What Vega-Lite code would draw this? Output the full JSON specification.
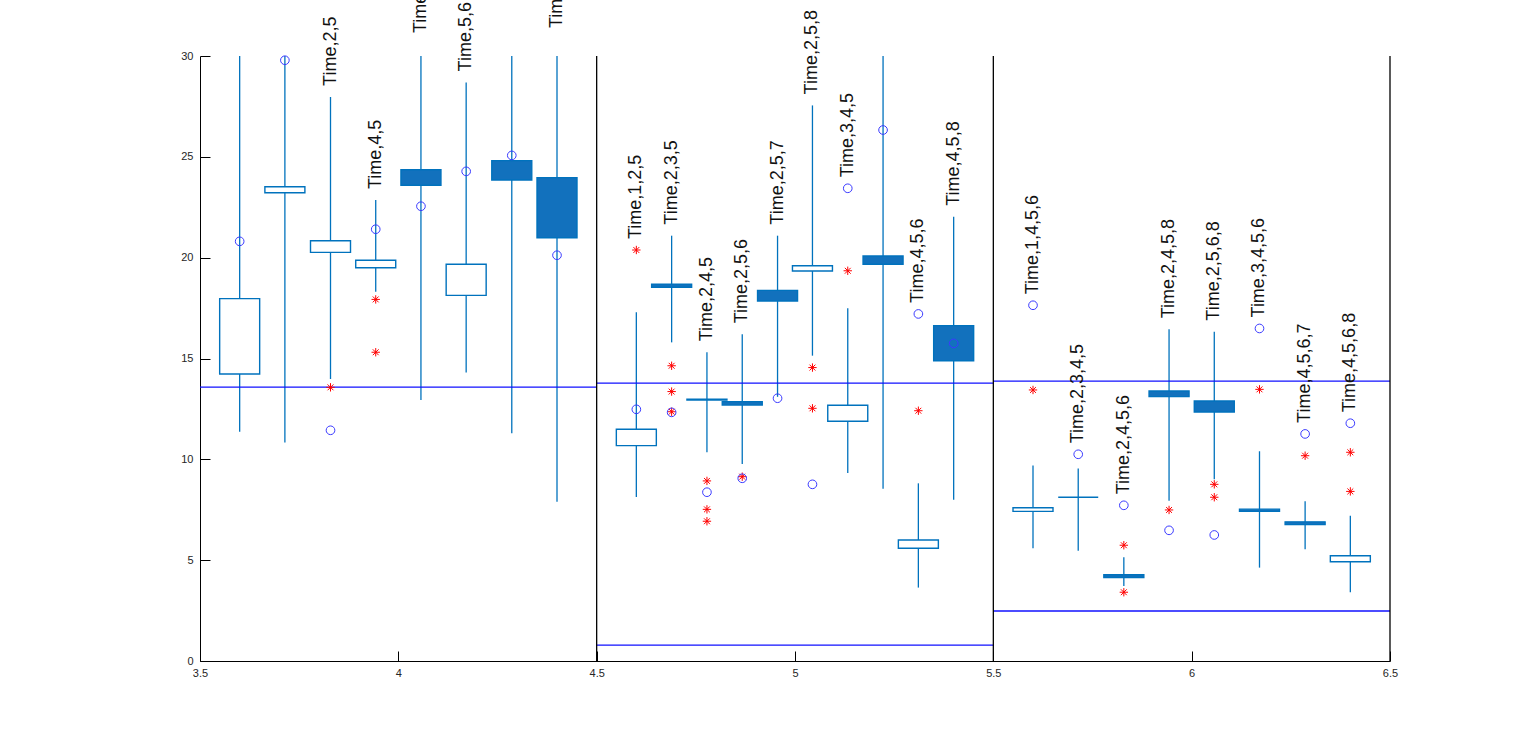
{
  "$schema": "https://vega.github.io/schema/vega-lite/v6.json",
  "width": 1190,
  "height": 605,
  "autosize": "none",
  "padding": {"left": 200, "top": 56, "right": 146, "bottom": 83},
  "background": "white",
  "config": {
    "view": {"stroke": null},
    "axis": {"labelFont": "Liberation Sans", "labelFontSize": 11, "labelColor": "#262626", "domainColor": "#000000", "tickColor": "#000000", "grid": false, "title": null, "tickSize": -10, "domainWidth": 1, "tickWidth": 1, "labelFlush": false}
  },
  "datasets": {
    "boxes": [
      {"x": 3.6, "q1": 14.23, "q3": 17.97, "lo": 11.37, "hi": 32, "kind": "outline"},
      {"x": 3.714, "q1": 23.22, "q3": 23.52, "lo": 10.84, "hi": 32, "kind": "outline"},
      {"x": 3.829, "q1": 20.26, "q3": 20.84, "lo": 13.98, "hi": 27.97, "kind": "outline"},
      {"x": 3.943, "q1": 19.5, "q3": 19.87, "lo": 18.31, "hi": 22.86, "kind": "outline"},
      {"x": 4.057, "q1": 23.59, "q3": 24.36, "lo": 12.94, "hi": 30.59, "kind": "compact"},
      {"x": 4.171, "q1": 18.13, "q3": 19.67, "lo": 14.31, "hi": 28.69, "kind": "outline"},
      {"x": 4.286, "q1": 23.85, "q3": 24.81, "lo": 11.29, "hi": 32, "kind": "compact"},
      {"x": 4.4, "q1": 20.99, "q3": 23.97, "lo": 7.9, "hi": 30.84, "kind": "compact"},
      {"x": 4.6, "q1": 10.68, "q3": 11.49, "lo": 8.13, "hi": 17.29, "kind": "outline"},
      {"x": 4.689, "q1": 18.53, "q3": 18.69, "lo": 15.8, "hi": 21.09, "kind": "compact"},
      {"x": 4.778, "q1": 12.94, "q3": 12.98, "lo": 10.35, "hi": 15.31, "kind": "outline"},
      {"x": 4.867, "q1": 12.69, "q3": 12.86, "lo": 9.77, "hi": 16.2, "kind": "compact"},
      {"x": 4.956, "q1": 17.85, "q3": 18.38, "lo": 13.1, "hi": 21.09, "kind": "compact"},
      {"x": 5.044, "q1": 19.34, "q3": 19.6, "lo": 15.14, "hi": 27.55, "kind": "outline"},
      {"x": 5.133, "q1": 11.89, "q3": 12.68, "lo": 9.32, "hi": 17.49, "kind": "outline"},
      {"x": 5.222, "q1": 19.67, "q3": 20.08, "lo": 8.54, "hi": 32, "kind": "compact"},
      {"x": 5.311, "q1": 5.59, "q3": 6.0, "lo": 3.64, "hi": 8.81, "kind": "outline"},
      {"x": 5.4, "q1": 14.89, "q3": 16.63, "lo": 8.0, "hi": 22.03, "kind": "compact"},
      {"x": 5.6, "q1": 7.42, "q3": 7.6, "lo": 5.59, "hi": 9.69, "kind": "outline"},
      {"x": 5.714, "q1": 8.12, "q3": 8.12, "lo": 5.47, "hi": 9.54, "kind": "outline"},
      {"x": 5.829, "q1": 4.14, "q3": 4.28, "lo": 3.72, "hi": 5.14, "kind": "compact"},
      {"x": 5.943, "q1": 13.11, "q3": 13.39, "lo": 7.95, "hi": 16.45, "kind": "compact"},
      {"x": 6.057, "q1": 12.35, "q3": 12.89, "lo": 9.01, "hi": 16.33, "kind": "compact"},
      {"x": 6.171, "q1": 7.42, "q3": 7.53, "lo": 4.63, "hi": 10.4, "kind": "compact"},
      {"x": 6.286, "q1": 6.76, "q3": 6.9, "lo": 5.54, "hi": 7.92, "kind": "compact"},
      {"x": 6.4, "q1": 4.92, "q3": 5.22, "lo": 3.41, "hi": 7.2, "kind": "outline"}
    ],
    "stars": [
      {"x": 3.829, "v": 13.57},
      {"x": 3.943, "v": 17.93}, {"x": 3.943, "v": 15.31},
      {"x": 4.6, "v": 20.38},
      {"x": 4.689, "v": 14.64}, {"x": 4.689, "v": 13.36}, {"x": 4.689, "v": 12.36},
      {"x": 4.778, "v": 8.93}, {"x": 4.778, "v": 7.52}, {"x": 4.778, "v": 6.93},
      {"x": 4.867, "v": 9.14},
      {"x": 5.044, "v": 14.55}, {"x": 5.044, "v": 12.53},
      {"x": 5.133, "v": 19.35},
      {"x": 5.311, "v": 12.41},
      {"x": 5.6, "v": 13.44},
      {"x": 5.829, "v": 5.74}, {"x": 5.829, "v": 3.41},
      {"x": 5.943, "v": 7.49},
      {"x": 6.057, "v": 8.76}, {"x": 6.057, "v": 8.12},
      {"x": 6.171, "v": 13.47},
      {"x": 6.286, "v": 10.18},
      {"x": 6.4, "v": 10.35}, {"x": 6.4, "v": 8.41}
    ],
    "circles": [
      {"x": 3.6, "v": 20.81}, {"x": 3.714, "v": 29.79}, {"x": 3.829, "v": 11.44}, {"x": 3.943, "v": 21.41},
      {"x": 4.057, "v": 22.55}, {"x": 4.171, "v": 24.28}, {"x": 4.286, "v": 25.07}, {"x": 4.4, "v": 20.12},
      {"x": 4.6, "v": 12.48}, {"x": 4.689, "v": 12.33}, {"x": 4.778, "v": 8.37}, {"x": 4.867, "v": 9.06},
      {"x": 4.956, "v": 13.03}, {"x": 5.044, "v": 8.76}, {"x": 5.133, "v": 23.44}, {"x": 5.222, "v": 26.33},
      {"x": 5.311, "v": 17.21}, {"x": 5.4, "v": 15.75},
      {"x": 5.6, "v": 17.64}, {"x": 5.714, "v": 10.25}, {"x": 5.829, "v": 7.72}, {"x": 5.943, "v": 6.48},
      {"x": 6.057, "v": 6.25}, {"x": 6.171, "v": 16.49}, {"x": 6.286, "v": 11.26}, {"x": 6.4, "v": 11.79}
    ],
    "labels": [
      {"x": 3.829, "top": 27.97, "text": "Time,2,5"},
      {"x": 3.943, "top": 22.86, "text": "Time,4,5"},
      {"x": 4.057, "top": 30.59, "text": "Time,3,5"},
      {"x": 4.171, "top": 28.69, "text": "Time,5,6"},
      {"x": 4.4, "top": 30.84, "text": "Time,5,8"},
      {"x": 4.6, "top": 20.38, "text": "Time,1,2,5"},
      {"x": 4.689, "top": 21.09, "text": "Time,2,3,5"},
      {"x": 4.778, "top": 15.31, "text": "Time,2,4,5"},
      {"x": 4.867, "top": 16.2, "text": "Time,2,5,6"},
      {"x": 4.956, "top": 21.09, "text": "Time,2,5,7"},
      {"x": 5.044, "top": 27.55, "text": "Time,2,5,8"},
      {"x": 5.133, "top": 23.44, "text": "Time,3,4,5"},
      {"x": 5.311, "top": 17.21, "text": "Time,4,5,6"},
      {"x": 5.4, "top": 22.03, "text": "Time,4,5,8"},
      {"x": 5.6, "top": 17.64, "text": "Time,1,4,5,6"},
      {"x": 5.714, "top": 10.25, "text": "Time,2,3,4,5"},
      {"x": 5.829, "top": 7.72, "text": "Time,2,4,5,6"},
      {"x": 5.943, "top": 16.45, "text": "Time,2,4,5,8"},
      {"x": 6.057, "top": 16.33, "text": "Time,2,5,6,8"},
      {"x": 6.171, "top": 16.49, "text": "Time,3,4,5,6"},
      {"x": 6.286, "top": 11.26, "text": "Time,4,5,6,7"},
      {"x": 6.4, "top": 11.79, "text": "Time,4,5,6,8"}
    ],
    "hlines": [
      {"x1": 3.5, "x2": 4.5, "y": 13.58},
      {"x1": 4.5, "x2": 5.5, "y": 13.78},
      {"x1": 4.5, "x2": 5.5, "y": 0.79},
      {"x1": 5.5, "x2": 6.5, "y": 13.88},
      {"x1": 5.5, "x2": 6.5, "y": 2.48}
    ],
    "vlines": [
      {"x": 4.5}, {"x": 5.5}, {"x": 6.5}
    ]
  },
  "layer": [
    {
      "data": {"name": "boxes"},
      "mark": {"type": "rule", "color": "#0072BD", "strokeWidth": 1.3, "clip": true},
      "encoding": {
        "x": {"field": "x", "type": "quantitative", "scale": {"domain": [3.5, 6.5], "nice": false, "zero": false, "padding": 0},
              "axis": {"values": [3.5, 4, 4.5, 5, 5.5, 6, 6.5], "format": "~g", "labelPadding": 16}},
        "y": {"field": "lo", "type": "quantitative", "scale": {"domain": [0, 30], "nice": false, "zero": false, "padding": 0},
              "axis": {"values": [0, 5, 10, 15, 20, 25, 30], "format": "d", "labelPadding": 17}},
        "y2": {"field": "hi"}
      }
    },
    {
      "data": {"name": "boxes"},
      "mark": {"type": "bar", "width": 40, "stroke": "#0072BD", "strokeWidth": 1.4, "clip": true},
      "encoding": {
        "x": {"field": "x", "type": "quantitative"},
        "y": {"field": "q1", "type": "quantitative"},
        "y2": {"field": "q3"},
        "fill": {"field": "kind", "type": "nominal", "scale": {"domain": ["compact", "outline"], "range": ["#1271BD", "#ffffff"]}, "legend": null}
      }
    },
    {
      "data": {"name": "hlines"},
      "mark": {"type": "rule", "color": "#1010ff", "strokeWidth": 1.3},
      "encoding": {
        "x": {"field": "x1", "type": "quantitative"},
        "x2": {"field": "x2"},
        "y": {"field": "y", "type": "quantitative"}
      }
    },
    {
      "data": {"name": "vlines"},
      "mark": {"type": "rule", "color": "#000000", "strokeWidth": 1.3},
      "encoding": {
        "x": {"field": "x", "type": "quantitative"},
        "y": {"datum": 0, "type": "quantitative"},
        "y2": {"datum": 30}
      }
    },
    {
      "data": {"name": "stars"},
      "mark": {"type": "point", "shape": "M-1,0L1,0M0,-1L0,1M-0.7,-0.7L0.7,0.7M-0.7,0.7L0.7,-0.7", "filled": false, "stroke": "#ff0000", "strokeWidth": 1, "size": 70, "opacity": 1},
      "encoding": {
        "x": {"field": "x", "type": "quantitative"},
        "y": {"field": "v", "type": "quantitative"}
      }
    },
    {
      "data": {"name": "circles"},
      "mark": {"type": "point", "shape": "circle", "filled": false, "stroke": "#3a3aff", "strokeWidth": 1, "size": 75, "opacity": 1},
      "encoding": {
        "x": {"field": "x", "type": "quantitative"},
        "y": {"field": "v", "type": "quantitative"}
      }
    },
    {
      "data": {"name": "labels"},
      "mark": {"type": "text", "angle": 270, "align": "left", "baseline": "middle", "dx": 11, "font": "Liberation Sans", "fontSize": 18, "color": "#111111"},
      "encoding": {
        "x": {"field": "x", "type": "quantitative"},
        "y": {"field": "top", "type": "quantitative"},
        "text": {"field": "text"}
      }
    }
  ]
}
